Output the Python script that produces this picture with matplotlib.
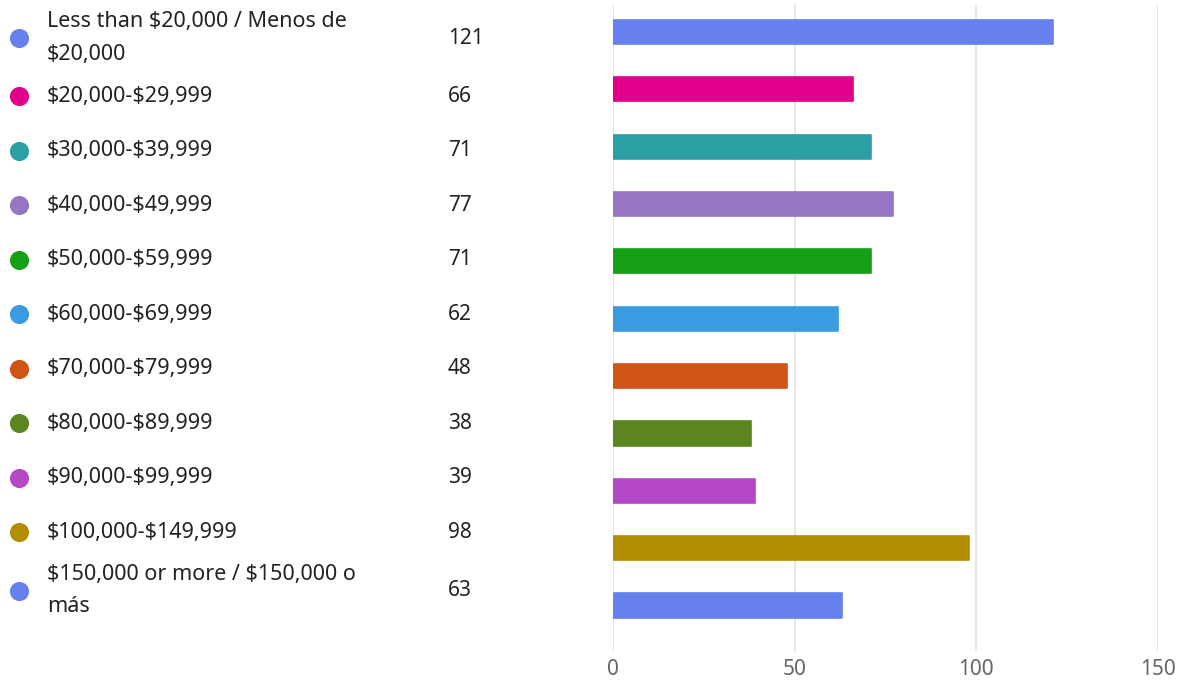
import textwrap
import numpy as np
import matplotlib.pyplot as plt

plt.rcParams['font.family'] = ['Noto Sans', 'DejaVu Sans']
plt.rcParams['text.parse_math'] = False

categories = [
    "Less than $20,000 / Menos de $20,000",
    "$20,000-$29,999",
    "$30,000-$39,999",
    "$40,000-$49,999",
    "$50,000-$59,999",
    "$60,000-$69,999",
    "$70,000-$79,999",
    "$80,000-$89,999",
    "$90,000-$99,999",
    "$100,000-$149,999",
    "$150,000 or more / $150,000 o más",
]
counts = [121, 66, 71, 77, 71, 62, 48, 38, 39, 98, 63]
colors = ['#6680ee', '#e0008c', '#2aa0a4', '#9575c4', '#15a015', '#3b9be0',
          '#d05415', '#5a8520', '#b548c6', '#b08e00', '#6680ee']
xticks = [0, 50, 100, 150]

W, H = 1184, 682
fig = plt.figure(figsize=(W / 100, H / 100), dpi=100)

# bar chart on the right
ax = fig.add_axes([613 / W, 1 - 652 / H, (1158 - 613) / W, 648 / H])
y = np.arange(len(counts))
ax.barh(y, counts, height=0.42, color=colors, edgecolor=colors,
        linewidth=1.2, joinstyle='round', zorder=3)
ax.set_xlim(0, 150)
ax.set_ylim(10.81, -0.488)
ax.set_xticks(xticks)
ax.set_yticks([])
ax.grid(axis='x', color='#e3e3e3', linewidth=1.2, zorder=0)
for s in ax.spines.values():
    s.set_visible(False)
ax.tick_params(axis='x', length=0, pad=5, labelsize=15, labelcolor='#666666')

# legend / labels on the left, laid out in pixels
lg = fig.add_axes([0, 0, 1, 1])
lg.set_xlim(0, W)
lg.set_ylim(H, 0)
lg.axis('off')
top = 7
for cat, n, c in zip(categories, counts, colors):
    lines = textwrap.wrap(cat, 29)
    h = 62 if len(lines) > 1 else 54.5
    yc = top + h / 2
    lg.scatter([19], [yc], s=190, color=c, linewidths=0)
    lg.text(47, yc, "\n".join(lines), fontsize=15.5, color='#222222',
            va='center', ha='left', linespacing=1.7)
    lg.text(448, yc, str(n), fontsize=15, color='#222222', va='center', ha='left')
    top += h

fig.savefig('out.png', dpi=100)
